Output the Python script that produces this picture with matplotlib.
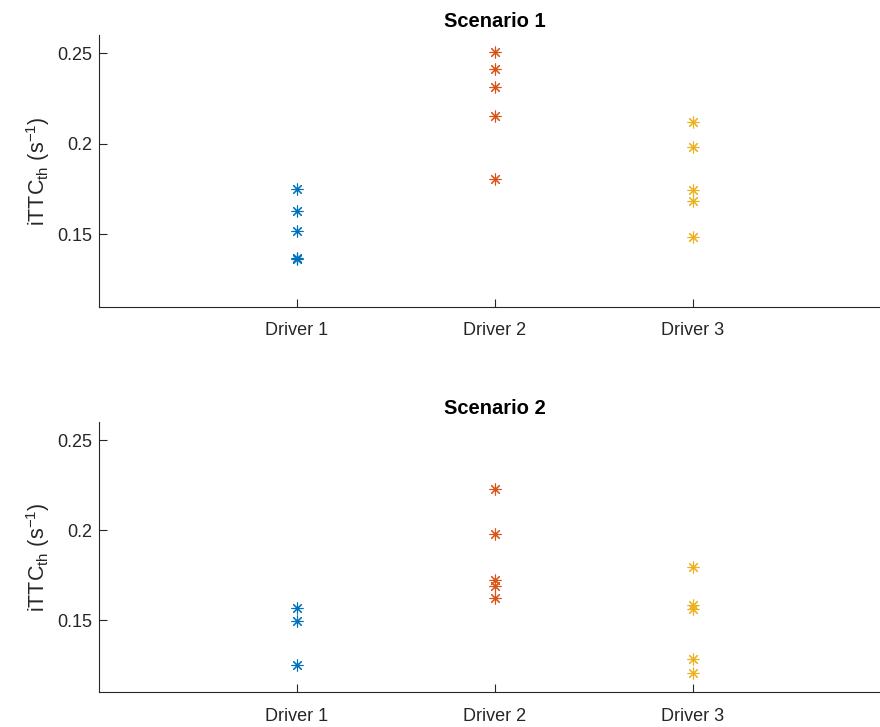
import matplotlib
matplotlib.use("Agg")
import matplotlib.pyplot as plt

plt.rcParams['font.family'] = ['Liberation Sans', 'DejaVu Sans']
plt.rcParams['mathtext.fontset'] = 'custom'
plt.rcParams['mathtext.rm'] = 'Liberation Sans'
plt.rcParams['mathtext.it'] = 'Liberation Sans:italic'

drivers = ["Driver 1", "Driver 2", "Driver 3"]
colors = ["#0072BD", "#D95319", "#EDB120"]

s1_driver1 = [0.1749, 0.1627, 0.1520, 0.1372, 0.1363]
s1_driver2 = [0.2507, 0.2413, 0.2312, 0.2155, 0.1806]
s1_driver3 = [0.2122, 0.1980, 0.1745, 0.1682, 0.1485]

s2_driver1 = [0.1570, 0.1496, 0.1253]
s2_driver2 = [0.2230, 0.1979, 0.1722, 0.1689, 0.1622]
s2_driver3 = [0.1796, 0.1583, 0.1565, 0.1287, 0.1207]

scenarios = [
    ("Scenario 1", [s1_driver1, s1_driver2, s1_driver3]),
    ("Scenario 2", [s2_driver1, s2_driver2, s2_driver3]),
]
yticks = [0.15, 0.2, 0.25]
yticklabels = ["0.15", "0.2", "0.25"]

fig = plt.figure(figsize=(8.8, 7.27), dpi=100)
positions = [
    [99 / 880, 1 - 307 / 727, 792 / 880, 272 / 727],
    [99 / 880, 1 - 692.3 / 727, 792 / 880, 270 / 727],
]
axcol = "#262626"
for pos, (title, data) in zip(positions, scenarios):
    ax = fig.add_axes(pos)
    for i, (vals, c) in enumerate(zip(data, colors)):
        ax.plot([i + 1] * len(vals), vals, linestyle='none',
                marker=(8, 2, 0), markersize=8.5, markeredgewidth=0.8,
                color=c, clip_on=False)
    ax.set_xlim(0, 4)
    ax.set_ylim(0.11, 0.26)
    ax.set_xticks([1, 2, 3])
    ax.set_xticklabels(drivers)
    ax.set_yticks(yticks)
    ax.set_yticklabels(yticklabels)
    for side in ['top', 'right']:
        ax.spines[side].set_visible(False)
    for side in ['left', 'bottom']:
        ax.spines[side].set_color(axcol)
        ax.spines[side].set_linewidth(0.8)
    ax.tick_params(axis='both', direction='in', colors=axcol,
                   labelsize=13, length=5.5, width=0.8)
    ax.tick_params(axis='x', pad=11)
    ax.tick_params(axis='y', pad=5)
    ax.set_title(title, fontsize=14.5, fontweight='bold', pad=6, color='black')
    ax.set_ylabel(r'iTTC$_{\mathrm{th}}$ (s$^{\mathrm{-1}}$)', fontsize=15.5,
                  color=axcol, labelpad=4)

fig.savefig("out.png", dpi=100)
